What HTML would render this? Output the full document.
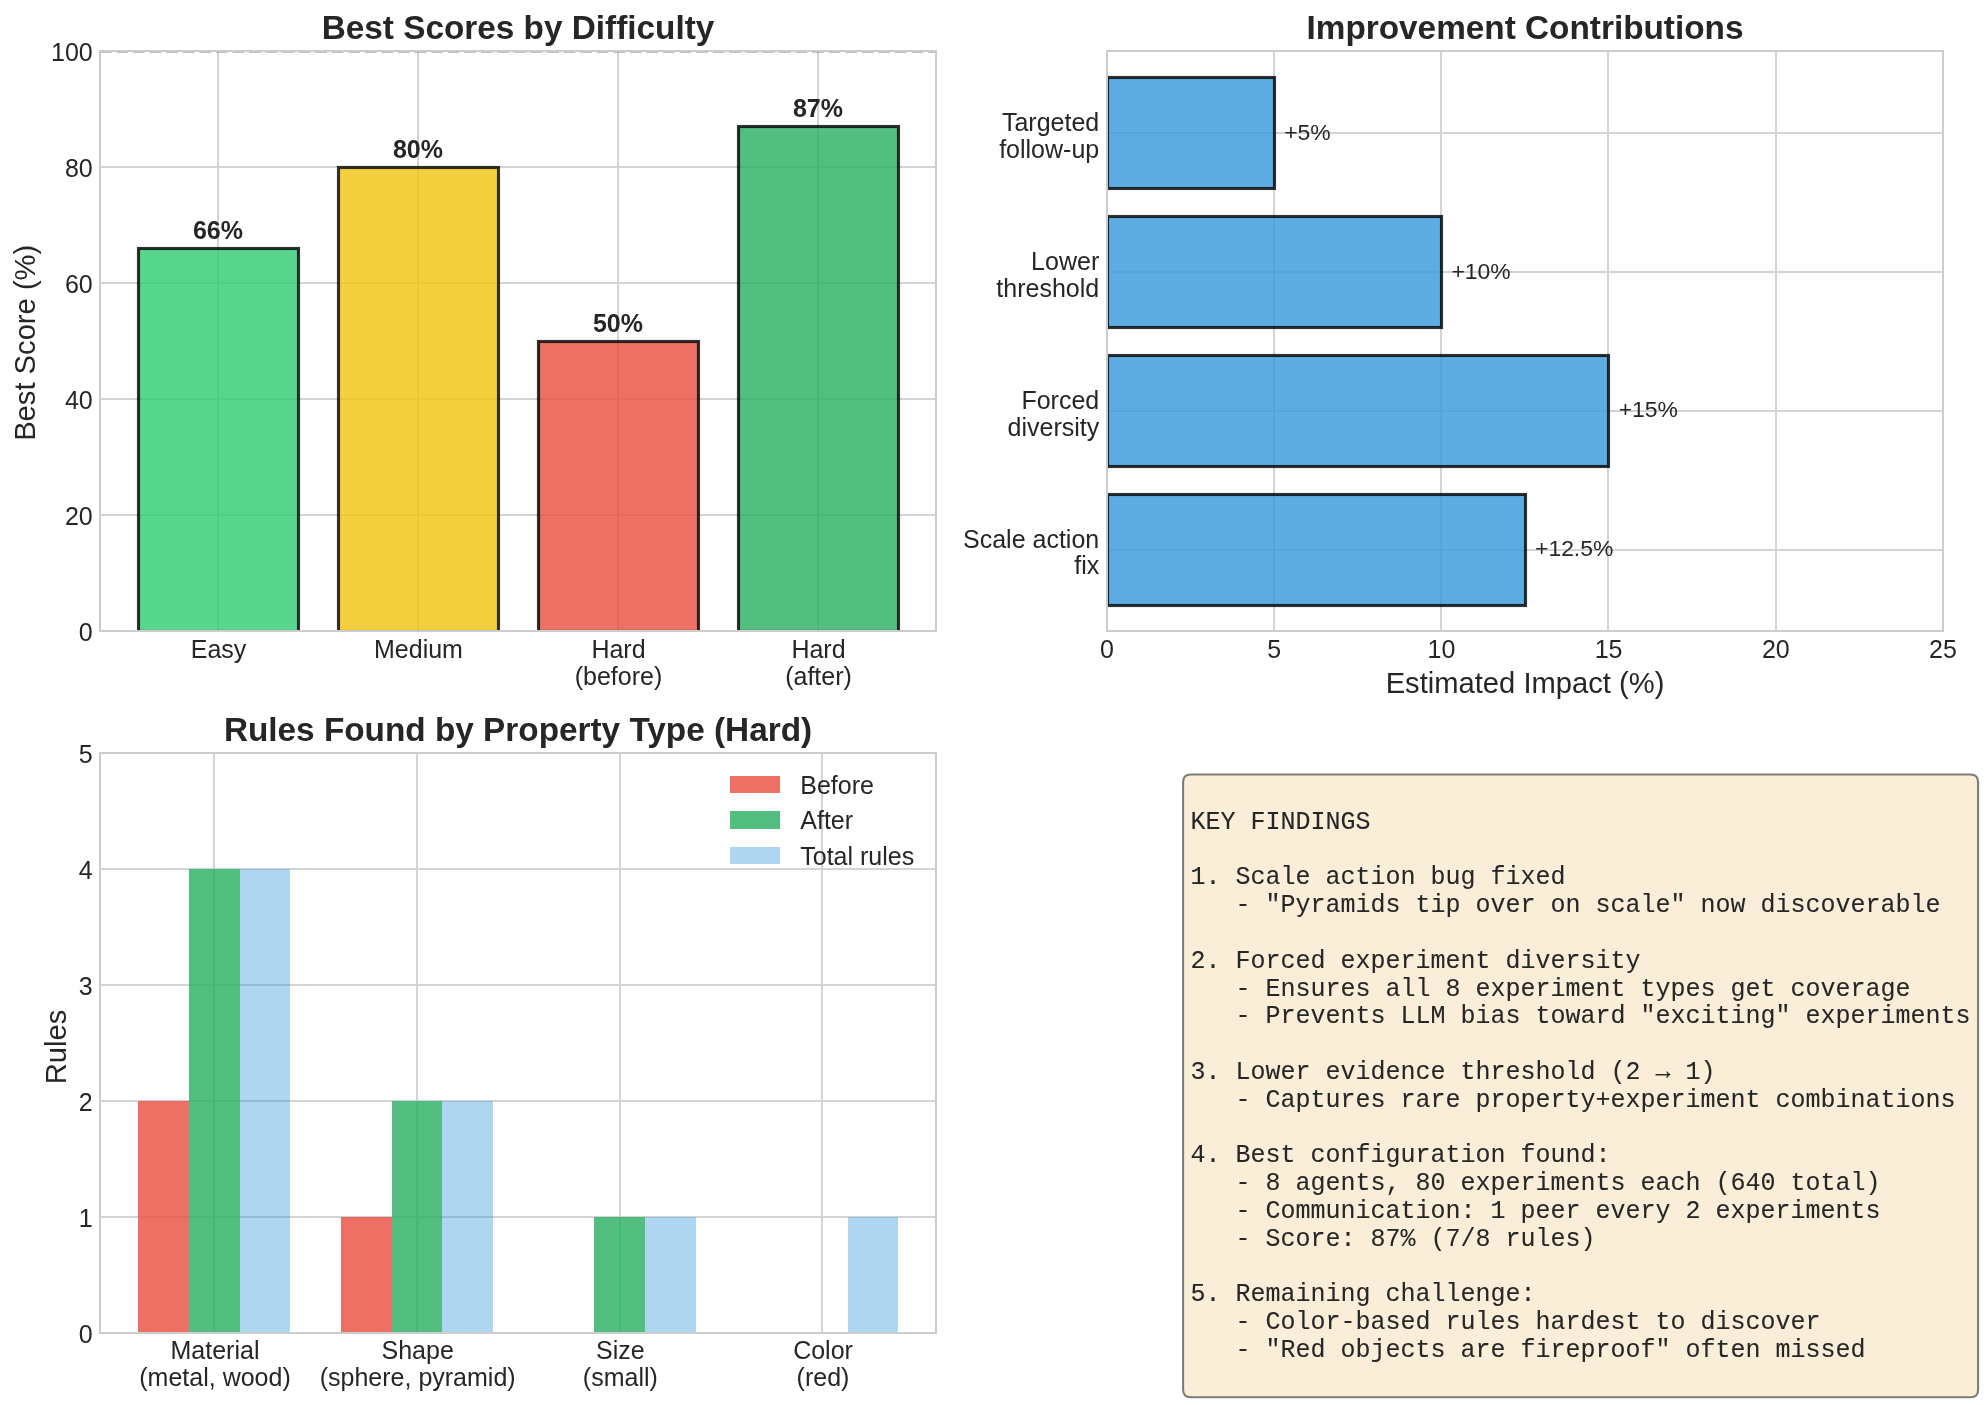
<!DOCTYPE html>
<html><head><meta charset="utf-8"><title>Improvement summary charts</title>
<style>
html,body{margin:0;padding:0;background:#fff;}
body{width:1985px;height:1405px;overflow:hidden;}
svg{display:block;will-change:transform;}
.t{font-family:"Liberation Sans",sans-serif;fill:#262626;}
.m{font-family:"Liberation Mono",monospace;fill:#262626;white-space:pre;stroke:#262626;stroke-width:0.08px;}
</style></head><body>
<svg width="1985" height="1405" viewBox="0 0 1985 1405">
<defs><clipPath id="c1"><rect x="100" y="51" width="836" height="580"/></clipPath><clipPath id="c2"><rect x="1107" y="51" width="836" height="580"/></clipPath><clipPath id="c3"><rect x="100" y="753" width="836" height="580"/></clipPath></defs>
<rect width="1985" height="1405" fill="#fff"/>
<g fill="#d4d4d4"><rect x="217" y="51" width="2" height="580"/><rect x="417" y="51" width="2" height="580"/><rect x="617" y="51" width="2" height="580"/><rect x="817" y="51" width="2" height="580"/><rect x="100" y="514" width="836" height="2"/><rect x="100" y="398" width="836" height="2"/><rect x="100" y="282" width="836" height="2"/><rect x="100" y="166" width="836" height="2"/></g>
<g clip-path="url(#c1)"><rect x="138.5" y="248.5" width="160" height="383" fill="#2ecc71" fill-opacity="0.8" stroke="#000" stroke-opacity="0.8" stroke-width="3.125"/><rect x="338.5" y="167.5" width="160" height="464" fill="#f1c40f" fill-opacity="0.8" stroke="#000" stroke-opacity="0.8" stroke-width="3.125"/><rect x="538.5" y="341.5" width="160" height="290" fill="#e74c3c" fill-opacity="0.8" stroke="#000" stroke-opacity="0.8" stroke-width="3.125"/><rect x="738.5" y="126.5" width="160" height="505" fill="#27ae60" fill-opacity="0.8" stroke="#000" stroke-opacity="0.8" stroke-width="3.125"/></g>
<line x1="100" y1="51.5" x2="936" y2="51.5" stroke="#808080" stroke-opacity="0.5" stroke-width="3.125" stroke-dasharray="11.5625 5"/>
<g fill="#cccccc"><rect x="99" y="50" width="2" height="582"/><rect x="935" y="50" width="2" height="582"/><rect x="99" y="50" width="838" height="2"/><rect x="99" y="630" width="838" height="2"/></g>
<g fill="#d4d4d4"><rect x="1273" y="51" width="2" height="580"/><rect x="1440" y="51" width="2" height="580"/><rect x="1607" y="51" width="2" height="580"/><rect x="1775" y="51" width="2" height="580"/><rect x="1107" y="549" width="836" height="2"/><rect x="1107" y="410" width="836" height="2"/><rect x="1107" y="271" width="836" height="2"/><rect x="1107" y="132" width="836" height="2"/></g>
<g clip-path="url(#c2)"><rect x="1107.5" y="494.5" width="418" height="111" fill="#3498db" fill-opacity="0.8" stroke="#000" stroke-opacity="0.8" stroke-width="3.125"/><rect x="1107.5" y="355.5" width="501" height="111" fill="#3498db" fill-opacity="0.8" stroke="#000" stroke-opacity="0.8" stroke-width="3.125"/><rect x="1107.5" y="216.5" width="334" height="111" fill="#3498db" fill-opacity="0.8" stroke="#000" stroke-opacity="0.8" stroke-width="3.125"/><rect x="1107.5" y="77.5" width="167" height="111" fill="#3498db" fill-opacity="0.8" stroke="#000" stroke-opacity="0.8" stroke-width="3.125"/></g>
<g fill="#cccccc"><rect x="1106" y="50" width="2" height="582"/><rect x="1942" y="50" width="2" height="582"/><rect x="1106" y="50" width="838" height="2"/><rect x="1106" y="630" width="838" height="2"/></g>
<g fill="#d4d4d4"><rect x="213" y="753" width="2" height="580"/><rect x="416" y="753" width="2" height="580"/><rect x="619" y="753" width="2" height="580"/><rect x="821" y="753" width="2" height="580"/><rect x="100" y="1216" width="836" height="2"/><rect x="100" y="1100" width="836" height="2"/><rect x="100" y="984" width="836" height="2"/><rect x="100" y="868" width="836" height="2"/></g>
<g clip-path="url(#c3)"><rect x="138" y="1101" width="51" height="232" fill="#e74c3c" fill-opacity="0.8"/><rect x="341" y="1217" width="51" height="116" fill="#e74c3c" fill-opacity="0.8"/><rect x="189" y="869" width="51" height="464" fill="#27ae60" fill-opacity="0.8"/><rect x="392" y="1101" width="50" height="232" fill="#27ae60" fill-opacity="0.8"/><rect x="594" y="1217" width="51" height="116" fill="#27ae60" fill-opacity="0.8"/><rect x="240" y="869" width="50" height="464" fill="#3498db" fill-opacity="0.4"/><rect x="442" y="1101" width="51" height="232" fill="#3498db" fill-opacity="0.4"/><rect x="645" y="1217" width="51" height="116" fill="#3498db" fill-opacity="0.4"/><rect x="848" y="1217" width="50" height="116" fill="#3498db" fill-opacity="0.4"/></g>
<g fill="#cccccc"><rect x="99" y="752" width="2" height="582"/><rect x="935" y="752" width="2" height="582"/><rect x="99" y="752" width="838" height="2"/><rect x="99" y="1332" width="838" height="2"/></g>
<g><rect x="730" y="776" width="50" height="17" fill="#e74c3c" fill-opacity="0.8"/><rect x="730" y="811" width="50" height="18" fill="#27ae60" fill-opacity="0.8"/><rect x="730" y="847" width="50" height="17" fill="#3498db" fill-opacity="0.4"/></g>
<path d="M1190.6 1397.3 L1970.6 1397.3 Q1978.1 1397.3 1978.1 1389.8 L1978.1 782 Q1978.1 774.5 1970.6 774.5 L1190.6 774.5 Q1183.1 774.5 1183.1 782 L1183.1 1389.8 Q1183.1 1397.3 1190.6 1397.3 Z" fill="#f5deb3" fill-opacity="0.5" stroke="#000" stroke-opacity="0.5" stroke-width="2.083"/>
<text class="t" x="218.5" y="658.41" font-size="25" text-anchor="middle">Easy</text>
<text class="t" x="418.5" y="658.41" font-size="25" text-anchor="middle">Medium</text>
<text class="t" x="591.41" y="658.41" font-size="25">Hard</text>
<text class="t" x="574.74" y="684.54" font-size="25">(before)</text>
<text class="t" x="791.41" y="658.41" font-size="25">Hard</text>
<text class="t" x="785.17" y="684.54" font-size="25">(after)</text>
<text class="t" x="92.71" y="641.06" font-size="25" text-anchor="end">0</text>
<text class="t" x="92.71" y="525.06" font-size="25" text-anchor="end">20</text>
<text class="t" x="92.71" y="409.06" font-size="25" text-anchor="end">40</text>
<text class="t" x="92.71" y="293.06" font-size="25" text-anchor="end">60</text>
<text class="t" x="92.71" y="177.06" font-size="25" text-anchor="end">80</text>
<text class="t" x="92.71" y="61.06" font-size="25" text-anchor="end">100</text>
<text class="t" x="35.12" y="342.8" font-size="29.17" text-anchor="middle" transform="rotate(-90 35.12 342.8)">Best Score (%)</text>
<text class="t" x="218" y="239.21" font-size="25" font-weight="700" text-anchor="middle">66%</text>
<text class="t" x="418" y="158.01" font-size="25" font-weight="700" text-anchor="middle">80%</text>
<text class="t" x="618" y="332.01" font-size="25" font-weight="700" text-anchor="middle">50%</text>
<text class="t" x="818" y="117.41" font-size="25" font-weight="700" text-anchor="middle">87%</text>
<text class="t" x="518" y="38.5" font-size="33.33" font-weight="700" text-anchor="middle">Best Scores by Difficulty</text>
<text class="t" x="1107" y="658.41" font-size="25" text-anchor="middle">0</text>
<text class="t" x="1274.2" y="658.41" font-size="25" text-anchor="middle">5</text>
<text class="t" x="1441.4" y="658.41" font-size="25" text-anchor="middle">10</text>
<text class="t" x="1608.6" y="658.41" font-size="25" text-anchor="middle">15</text>
<text class="t" x="1775.8" y="658.41" font-size="25" text-anchor="middle">20</text>
<text class="t" x="1943" y="658.41" font-size="25" text-anchor="middle">25</text>
<text class="t" x="1525" y="693.07" font-size="29.17" text-anchor="middle">Estimated Impact (%)</text>
<text class="t" x="963.02" y="547.54" font-size="25">Scale action</text>
<text class="t" x="1074.21" y="574.47" font-size="25">fix</text>
<text class="t" x="1021.41" y="408.78" font-size="25">Forced</text>
<text class="t" x="1007.52" y="435.71" font-size="25">diversity</text>
<text class="t" x="1031.12" y="270.03" font-size="25">Lower</text>
<text class="t" x="996.37" y="296.96" font-size="25">threshold</text>
<text class="t" x="1001.94" y="131.27" font-size="25">Targeted</text>
<text class="t" x="999.17" y="158.2" font-size="25">follow-up</text>
<text class="t" x="1535.03" y="556.06" font-size="22.92">+12.5%</text>
<text class="t" x="1618.63" y="417.3" font-size="22.92">+15%</text>
<text class="t" x="1451.43" y="278.55" font-size="22.92">+10%</text>
<text class="t" x="1284.23" y="139.79" font-size="22.92">+5%</text>
<text class="t" x="1525" y="38.5" font-size="33.33" font-weight="700" text-anchor="middle">Improvement Contributions</text>
<text class="t" x="170.54" y="1359.41" font-size="25">Material</text>
<text class="t" x="139.29" y="1386.34" font-size="25">(metal, wood)</text>
<text class="t" x="381.52" y="1359.41" font-size="25">Shape</text>
<text class="t" x="319.73" y="1386.34" font-size="25">(sphere, pyramid)</text>
<text class="t" x="596.02" y="1359.41" font-size="25">Size</text>
<text class="t" x="582.84" y="1386.34" font-size="25">(small)</text>
<text class="t" x="793.13" y="1359.41" font-size="25">Color</text>
<text class="t" x="796.61" y="1386.34" font-size="25">(red)</text>
<text class="t" x="92.71" y="1343.06" font-size="25" text-anchor="end">0</text>
<text class="t" x="92.71" y="1227.06" font-size="25" text-anchor="end">1</text>
<text class="t" x="92.71" y="1111.06" font-size="25" text-anchor="end">2</text>
<text class="t" x="92.71" y="995.06" font-size="25" text-anchor="end">3</text>
<text class="t" x="92.71" y="879.06" font-size="25" text-anchor="end">4</text>
<text class="t" x="92.71" y="763.06" font-size="25" text-anchor="end">5</text>
<text class="t" x="65.62" y="1047" font-size="29.17" text-anchor="middle" transform="rotate(-90 65.62 1047)">Rules</text>
<text class="t" x="518" y="740.5" font-size="33.33" font-weight="700" text-anchor="middle">Rules Found by Property Type (Hard)</text>
<text class="t" x="800.28" y="793.62" font-size="25">Before</text>
<text class="t" x="800.28" y="829.42" font-size="25">After</text>
<text class="t" x="800.28" y="865.23" font-size="25">Total rules</text>
<text class="m" x="1190.6" y="828.8" font-size="25" xml:space="preserve" transform="matrix(1 0 0 1.04 0 -33.15)">KEY FINDINGS</text>
<text class="m" x="1190.6" y="884.4" font-size="25" xml:space="preserve" transform="matrix(1 0 0 1.04 0 -35.38)">1. Scale action bug fixed</text>
<text class="m" x="1190.6" y="912.2" font-size="25" xml:space="preserve" transform="matrix(1 0 0 1.04 0 -36.49)">   - "Pyramids tip over on scale" now discoverable</text>
<text class="m" x="1190.6" y="967.8" font-size="25" xml:space="preserve" transform="matrix(1 0 0 1.04 0 -38.71)">2. Forced experiment diversity</text>
<text class="m" x="1190.6" y="995.6" font-size="25" xml:space="preserve" transform="matrix(1 0 0 1.04 0 -39.82)">   - Ensures all 8 experiment types get coverage</text>
<text class="m" x="1190.6" y="1023.4" font-size="25" xml:space="preserve" transform="matrix(1 0 0 1.04 0 -40.94)">   - Prevents LLM bias toward "exciting" experiments</text>
<text class="m" x="1190.6" y="1079" font-size="25" xml:space="preserve" transform="matrix(1 0 0 1.04 0 -43.16)">3. Lower evidence threshold (2 → 1)</text>
<text class="m" x="1190.6" y="1106.8" font-size="25" xml:space="preserve" transform="matrix(1 0 0 1.04 0 -44.27)">   - Captures rare property+experiment combinations</text>
<text class="m" x="1190.6" y="1162.4" font-size="25" xml:space="preserve" transform="matrix(1 0 0 1.04 0 -46.5)">4. Best configuration found:</text>
<text class="m" x="1190.6" y="1190.2" font-size="25" xml:space="preserve" transform="matrix(1 0 0 1.04 0 -47.61)">   - 8 agents, 80 experiments each (640 total)</text>
<text class="m" x="1190.6" y="1218" font-size="25" xml:space="preserve" transform="matrix(1 0 0 1.04 0 -48.72)">   - Communication: 1 peer every 2 experiments</text>
<text class="m" x="1190.6" y="1245.8" font-size="25" xml:space="preserve" transform="matrix(1 0 0 1.04 0 -49.83)">   - Score: 87% (7/8 rules)</text>
<text class="m" x="1190.6" y="1301.4" font-size="25" xml:space="preserve" transform="matrix(1 0 0 1.04 0 -52.06)">5. Remaining challenge:</text>
<text class="m" x="1190.6" y="1329.2" font-size="25" xml:space="preserve" transform="matrix(1 0 0 1.04 0 -53.17)">   - Color-based rules hardest to discover</text>
<text class="m" x="1190.6" y="1357" font-size="25" xml:space="preserve" transform="matrix(1 0 0 1.04 0 -54.28)">   - "Red objects are fireproof" often missed</text>
</svg></body></html>
